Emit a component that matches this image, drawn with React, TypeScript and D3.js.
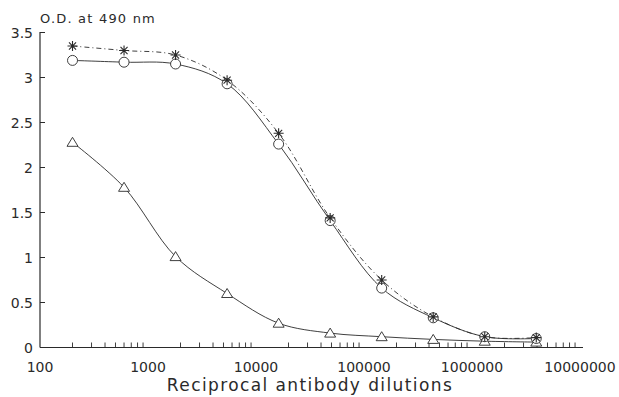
import React from "react";
import * as d3 from "d3";

// dilution series (3-fold)
const dilutions = [200, 600, 1800, 5400, 16200, 48600, 145800, 437400, 1312200, 3936600];
const starValues = [3.35, 3.3, 3.25, 2.97, 2.38, 1.44, 0.75, 0.34, 0.12, 0.11];
const circleValues = [3.19, 3.17, 3.15, 2.93, 2.26, 1.41, 0.66, 0.33, 0.12, 0.1];
const triangleValues = [2.28, 1.78, 1.01, 0.6, 0.27, 0.16, 0.12, 0.09, 0.07, 0.06];
const yTicks = [0, 0.5, 1, 1.5, 2, 2.5, 3, 3.5];
const xTicks = [100, 1000, 10000, 100000, 1000000, 10000000];

const W = 619, H = 397;
const ink = "#2a2a2a";

export default function App() {
  const x = d3.scaleLog().domain([100, 10000000]).range([40, 580]);
  const y = d3.scaleLinear().domain([0, 3.5]).range([347.5, 32.5]);

  const line = d3.line<number>()
    .x((_, i) => x(dilutions[i]))
    .y((d) => y(d))
    .curve(d3.curveCatmullRom.alpha(0.5));

  const minor: number[] = [];
  for (let e = 2; e < 7; e++) {
    for (let m = 2; m <= 9; m++) minor.push(m * Math.pow(10, e));
  }

  const starPath = (cx: number, cy: number) => {
    const r = 5;
    let s = "";
    for (let k = 0; k < 4; k++) {
      const a = (k * Math.PI) / 4;
      s += `M${cx - r * Math.cos(a)},${cy - r * Math.sin(a)}L${cx + r * Math.cos(a)},${cy + r * Math.sin(a)}`;
    }
    return s;
  };

  return (
    <svg width={W} height={H} style={{ position: "absolute", left: 0, top: 0, background: "#fff" }}
      fontFamily="'DejaVu Sans', 'Liberation Sans', sans-serif">
      {/* axes */}
      <line x1={40} x2={40} y1={32} y2={347.5} stroke={ink} strokeWidth={1.2} />
      <line x1={40} x2={583} y1={347.5} y2={347.5} stroke={ink} strokeWidth={1.2} />
      {yTicks.map((t) => (
        <g key={t}>
          <line x1={40} x2={45} y1={y(t)} y2={y(t)} stroke={ink} />
          <text x={33} y={y(t) + 5} textAnchor="end" fontSize={14} fill={ink}>{t}</text>
        </g>
      ))}
      {minor.map((t) => (
        <line key={t} x1={x(t)} x2={x(t)} y1={347.5} y2={342.5} stroke={ink} strokeWidth={0.9} />
      ))}
      {xTicks.map((t) => (
        <text key={t} x={x(t)} y={372} textAnchor="middle" fontSize={14} fill={ink}>{t}</text>
      ))}
      <text x={40} y={23} fontSize={13} fill={ink} letterSpacing={1.2}>O.D. at 490 nm</text>
      <text x={310} y={391} textAnchor="middle" fontSize={17} fill={ink} letterSpacing={1.4}>Reciprocal antibody dilutions</text>

      {/* curves */}
      <path d={line(triangleValues) || ""} fill="none" stroke={ink} strokeWidth={0.9} />
      <path d={line(circleValues) || ""} fill="none" stroke={ink} strokeWidth={0.9} />
      <path d={line(starValues) || ""} fill="none" stroke={ink} strokeWidth={0.9} strokeDasharray="5 3 1 3" />

      {/* markers */}
      {triangleValues.map((v, i) => {
        const cx = x(dilutions[i]), cy = y(v);
        return <path key={"t" + i} d={`M${cx},${cy - 5}L${cx + 5.5},${cy + 4}L${cx - 5.5},${cy + 4}Z`} fill="#fff" stroke={ink} strokeWidth={0.9} />;
      })}
      {circleValues.map((v, i) => (
        <circle key={"c" + i} cx={x(dilutions[i])} cy={y(v)} r={5} fill="#fff" stroke={ink} strokeWidth={0.9} />
      ))}
      {starValues.map((v, i) => (
        <path key={"s" + i} d={starPath(x(dilutions[i]), y(v))} stroke={ink} strokeWidth={1.1} fill="none" />
      ))}
    </svg>
  );
}
